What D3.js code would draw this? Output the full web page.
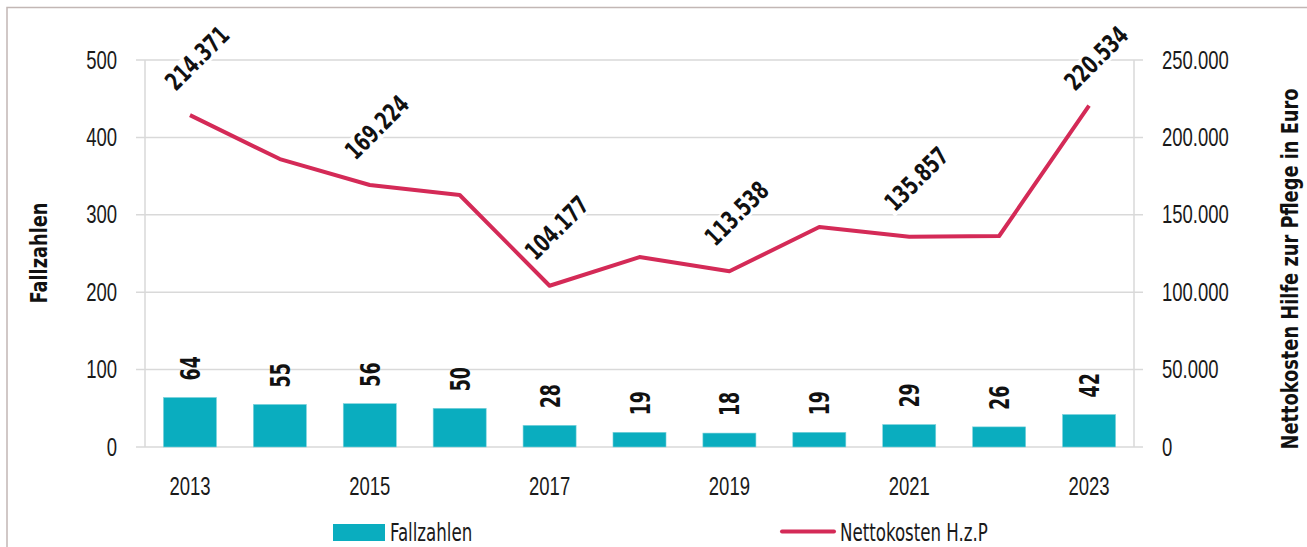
<!DOCTYPE html>
<html><head><meta charset="utf-8">
<script src="https://cdn.jsdelivr.net/npm/d3@7"></script>
<style>
html,body{margin:0;padding:0;background:#fff;}
svg{display:block;font-family:"DejaVu Sans Condensed","DejaVu Sans",sans-serif;font-stretch:condensed;}
</style></head><body>
<svg id="chart" width="1307" height="547"></svg>
<script>
const years = [2013,2014,2015,2016,2017,2018,2019,2020,2021,2022,2023];
const fallzahlen = [64,55,56,50,28,19,18,19,29,26,42];
const nettokosten = [214371,186000,169224,162800,104177,122700,113538,142100,135857,136300,220534];
const labeledYears = [2013,2015,2017,2019,2021,2023];
const leftTicks = [0,100,200,300,400,500];
const rightTicks = [0,50000,100000,150000,200000,250000];
const seriesNames = ["Fallzahlen","Nettokosten H.z.P"];
const axisTitles = ["Fallzahlen","Nettokosten Hilfe zur Pflege in Euro"];

const barColor = "#0aadbf", lineColor = "#d42a57", gridColor = "#d9d9d9", textColor = "#1a1a1a";
const svg = d3.select("#chart");
const L = 145, R = 1134, T = 60, B = 447;

function condense(sel, f){
  sel.each(function(){
    const w = this.getComputedTextLength();
    d3.select(this).attr("textLength", w*f).attr("lengthAdjust","spacingAndGlyphs");
  });
  return sel;
}

// frame
svg.append("path").attr("d","M7,547V7.5H1307").attr("fill","none").attr("stroke","#c2b7b5").attr("stroke-width",1.5);

const x = d3.scaleBand().domain(years).range([L,R]).paddingInner(0.41).paddingOuter(0.205);
const yL = d3.scaleLinear().domain([0,500]).range([B,T]);
const yR = d3.scaleLinear().domain([0,250000]).range([B,T]);
const cx = d => x(d) + x.bandwidth()/2;

// gridlines
const grid = svg.append("g");
grid.selectAll("line").data(leftTicks).join("line")
  .attr("x1",L-9).attr("x2",R+9).attr("y1",d=>yL(d)).attr("y2",d=>yL(d))
  .attr("stroke",gridColor).attr("stroke-width",1.5);
grid.append("line").attr("x1",L).attr("x2",L).attr("y1",T).attr("y2",B).attr("stroke",gridColor).attr("stroke-width",1.5);
grid.append("line").attr("x1",R).attr("x2",R).attr("y1",T).attr("y2",B).attr("stroke",gridColor).attr("stroke-width",1.5);

// axes
const fmtDE = d => d3.format(",")(d).replace(/,/g,".");
const axL = svg.append("g").attr("transform",`translate(${L-9},0)`)
  .call(d3.axisLeft(yL).tickValues(leftTicks).tickSize(0).tickPadding(19));
const axR = svg.append("g").attr("transform",`translate(${R+9},0)`)
  .call(d3.axisRight(yR).tickValues(rightTicks).tickSize(0).tickPadding(19).tickFormat(fmtDE));
const axB = svg.append("g").attr("transform",`translate(0,${B})`)
  .call(d3.axisBottom(x).tickValues(labeledYears).tickSize(0).tickPadding(30));
[axL,axR,axB].forEach(a=>{
  a.select(".domain").remove();
  const t = a.selectAll("text").attr("font-size",25).attr("fill",textColor).attr("font-family",null);
  condense(t, 0.74);
});

// bars
svg.append("g").selectAll("rect").data(years).join("rect")
  .attr("x",d=>x(d)).attr("width",x.bandwidth())
  .attr("y",(d,i)=>yL(fallzahlen[i])).attr("height",(d,i)=>B-yL(fallzahlen[i]))
  .attr("fill",barColor).attr("stroke","#7fd3dc").attr("stroke-width",0.6);

// bar labels
const bl = svg.append("g").selectAll("text").data(years).join("text")
  .attr("transform",(d,i)=>`translate(${cx(d)+10},${yL(fallzahlen[i])-17}) rotate(-90)`)
  .attr("text-anchor","start").attr("font-size",27).attr("font-weight","bold").attr("fill","#111")
  .text((d,i)=>fallzahlen[i]);
condense(bl, 0.72);

// line
const line = d3.line().x((d,i)=>cx(years[i])).y(d=>yR(d));
svg.append("path").datum(nettokosten).attr("d",line)
  .attr("fill","none").attr("stroke",lineColor).attr("stroke-width",4).attr("stroke-linejoin","round");

// line labels
const lblG = svg.append("g");
labeledYears.forEach(yr=>{
  const i = years.indexOf(yr);
  const ly = Math.max(yR(nettokosten[i]) - 58, 58);
  const g = lblG.append("g").attr("transform",`translate(${cx(yr)+7},${ly}) rotate(-45)`);
  const r = g.append("rect").attr("fill","#fff");
  const t = g.append("text").attr("text-anchor","middle").attr("dy","0.36em")
    .attr("font-size",25).attr("font-weight","bold").attr("fill","#111").text(fmtDE(nettokosten[i]));
  condense(t, 0.76);
  const bb = t.node().getBBox();
  const w = t.node().getComputedTextLength();
  r.attr("x",-w/2-3).attr("y",bb.y+3).attr("width",w+6).attr("height",bb.height-6);
});

// axis titles
const at1 = svg.append("text").attr("transform",`translate(47,253) rotate(-90)`).attr("text-anchor","middle")
  .attr("font-size",23).attr("font-weight","bold").attr("fill","#111").text(axisTitles[0]);
const at2 = svg.append("text").attr("transform",`translate(1298,269) rotate(-90)`).attr("text-anchor","middle")
  .attr("font-size",23).attr("font-weight","bold").attr("fill","#111").text(axisTitles[1]);
condense(at1,0.86); condense(at2,0.86);

// legend
const lg = svg.append("g");
lg.append("rect").attr("x",333).attr("y",524).attr("width",52).attr("height",17).attr("fill",barColor);
const lt1 = lg.append("text").attr("x",390).attr("y",541).attr("font-size",25).attr("fill",textColor).text(seriesNames[0]);
lg.append("line").attr("x1",782).attr("x2",834).attr("y1",531.5).attr("y2",531.5).attr("stroke",lineColor).attr("stroke-width",4).attr("stroke-linecap","round");
const lt2 = lg.append("text").attr("x",840).attr("y",541).attr("font-size",25).attr("fill",textColor).text(seriesNames[1]);
condense(lt1,0.74); condense(lt2,0.74);
</script>
</body></html>
